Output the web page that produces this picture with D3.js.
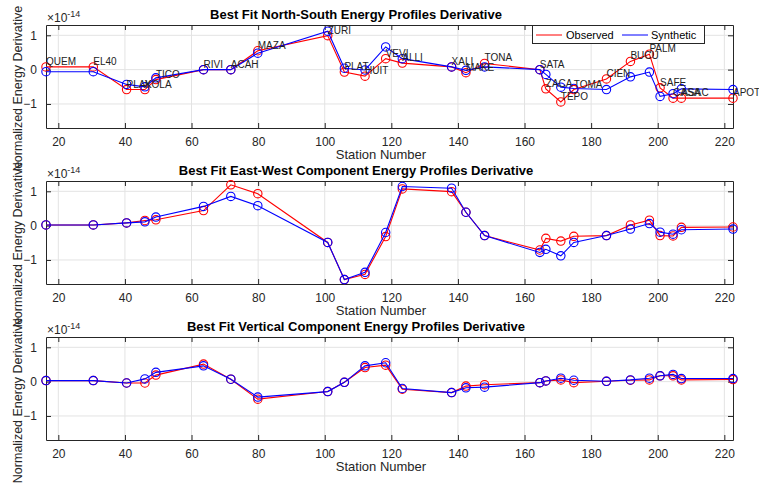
<!DOCTYPE html>
<html>
<head>
<meta charset="utf-8">
<script src="https://cdn.jsdelivr.net/npm/d3@7"></script>
<style>
  html, body { margin: 0; padding: 0; background: #fff; }
  svg { display: block; font-family: "Liberation Sans", Arial, Helvetica, sans-serif; }
</style>
</head>
<body>
<svg id="chart" width="759" height="483"></svg>
<script>
// Station names and distances along the profile
const stations = ["QUEM","EL40","PLAY","KOLA","TICO","RIVI","ACAH","MAZA","ZURI","PLAT","HUIT","VEVI","ALLI",
  "XALI","MAKE","TONA","SATA","ZACA","TEPO","TOMA","CIEN","BUCU","PALM","SAFE","CASA","ASAC","APOT"];
const stationNumber = [16.3,30.5,40.5,46.0,49.3,63.6,71.8,79.9,100.9,105.9,112.1,118.3,123.3,
  138.1,142.4,148.0,164.6,166.4,170.9,174.8,184.6,191.8,197.5,200.7,204.6,207.1,222.6];

// Energy derivative values, in units of 1e-14
const nsObserved  = [0.08,0.08,-0.58,-0.58,-0.29,0.00,0.00,0.55,0.99,-0.07,-0.19,0.32,0.19,
  0.08,-0.09,0.18,0.00,-0.56,-0.94,-0.58,-0.27,0.24,0.45,-0.53,-0.83,-0.83,-0.83];
const nsSynthetic = [-0.06,-0.06,-0.43,-0.50,-0.24,0.00,0.00,0.48,1.12,0.04,-0.01,0.66,0.32,
  0.08,-0.02,0.08,0.00,-0.14,-0.51,-0.55,-0.58,-0.21,-0.07,-0.78,-0.70,-0.56,-0.58];
const ewObserved  = [0.02,0.02,0.08,0.15,0.17,0.44,1.19,0.93,-0.49,-1.57,-1.42,-0.32,1.07,
  0.99,0.39,-0.29,-0.71,-0.37,-0.45,-0.31,-0.29,0.02,0.16,-0.29,-0.30,-0.05,-0.04];
const ewSynthetic = [0.02,0.02,0.08,0.11,0.25,0.56,0.85,0.58,-0.49,-1.57,-1.36,-0.20,1.14,
  1.09,0.39,-0.29,-0.78,-0.69,-0.88,-0.49,-0.29,-0.10,0.06,-0.19,-0.25,-0.12,-0.10];
const vObserved   = [0.03,0.03,-0.04,-0.04,0.19,0.51,0.07,-0.51,-0.29,-0.02,0.41,0.48,-0.22,
  -0.32,-0.13,-0.09,-0.03,0.02,0.05,-0.03,0.01,0.04,0.05,0.17,0.17,0.05,0.06];
const vSynthetic  = [0.03,0.03,-0.04,0.08,0.27,0.46,0.07,-0.45,-0.29,-0.02,0.46,0.55,-0.20,
  -0.32,-0.18,-0.16,-0.03,0.02,0.10,0.04,0.01,0.05,0.10,0.17,0.21,0.09,0.09];

const xTicks = [20,40,60,80,100,120,140,160,180,200,220];
const yTicks = [-1,0,1];
const yLimits = [-1.7, 1.3];
const exponent = "-14";
const seriesNames = ["Observed","Synthetic"];
const seriesColors = ["#ff0000","#0000ff"];

const panels = [
  { title: "Best Fit North-South Energy Profiles Derivative", obs: nsObserved, syn: nsSynthetic, top: 25, labels: true, legend: true },
  { title: "Best Fit East-West Component Energy Profiles Derivative", obs: ewObserved, syn: ewSynthetic, top: 181, labels: false, legend: false },
  { title: "Best Fit Vertical Component Energy Profiles Derivative", obs: vObserved, syn: vSynthetic, top: 337, labels: false, legend: false }
];

const svg = d3.select("#chart");
const left = 46, right = 733, panelH = 103;
const axisColor = "#262626";

const x = d3.scaleLinear().domain([stationNumber[0], stationNumber[stationNumber.length - 1]]).range([left, right]);

panels.forEach(p => {
  const y = d3.scaleLinear().domain(yLimits).range([p.top + panelH, p.top]);
  const g = svg.append("g");

  // grid
  g.selectAll(".gx").data(xTicks).join("line")
    .attr("x1", d => x(d)).attr("x2", d => x(d))
    .attr("y1", p.top).attr("y2", p.top + panelH)
    .attr("stroke", "#e3e3e3").attr("stroke-width", 1);
  g.selectAll(".gy").data(yTicks).join("line")
    .attr("x1", left).attr("x2", right)
    .attr("y1", d => y(d)).attr("y2", d => y(d))
    .attr("stroke", "#e3e3e3").attr("stroke-width", 1);

  // axes
  const xb = g.append("g").attr("transform", `translate(0,${p.top + panelH})`)
    .call(d3.axisBottom(x).tickValues(xTicks).tickSizeInner(-5).tickSizeOuter(0).tickPadding(9));
  const xt = g.append("g").attr("transform", `translate(0,${p.top})`)
    .call(d3.axisTop(x).tickValues(xTicks).tickSizeInner(-5).tickSizeOuter(0).tickFormat(""));
  const yl = g.append("g").attr("transform", `translate(${left},0)`)
    .call(d3.axisLeft(y).tickValues(yTicks).tickSizeInner(-5).tickSizeOuter(0).tickPadding(9).tickFormat(d3.format("d")));
  const yr = g.append("g").attr("transform", `translate(${right},0)`)
    .call(d3.axisRight(y).tickValues(yTicks).tickSizeInner(-5).tickSizeOuter(0).tickFormat(""));
  [xb, xt, yl, yr].forEach(a => {
    a.select(".domain").attr("stroke", axisColor);
    a.selectAll(".tick line").attr("stroke", axisColor);
    a.selectAll("text").attr("fill", axisColor).attr("font-size", 12)
      .attr("font-family", "'Liberation Sans', Arial, sans-serif");
  });

  // exponent label
  const ex = g.append("text").attr("x", left + 1).attr("y", p.top - 3)
    .attr("fill", axisColor).attr("font-size", 12);
  ex.append("tspan").text("\u00d710");
  ex.append("tspan").attr("font-size", 9).attr("dy", -5).text(exponent);

  // title and axis labels
  g.append("text").attr("x", 356).attr("y", p.top - 6).attr("text-anchor", "middle")
    .attr("font-weight", "bold").attr("font-size", 13).attr("fill", "#000").text(p.title);
  g.append("text").attr("x", 381).attr("y", p.top + panelH + 31).attr("text-anchor", "middle")
    .attr("font-size", 13).attr("fill", axisColor).text("Station Number");
  g.append("text").attr("transform", `translate(22,${p.top + panelH / 2 + 12}) rotate(-90)`)
    .attr("text-anchor", "middle").attr("font-size", 12.5).attr("fill", axisColor)
    .text("Normalized Energy Derivative");

  // series: observed first, synthetic on top
  [p.obs, p.syn].forEach((vals, i) => {
    const pts = vals.map((v, k) => [stationNumber[k], v]);
    g.append("path").datum(pts)
      .attr("d", d3.line().x(d => x(d[0])).y(d => y(d[1])))
      .attr("fill", "none").attr("stroke", seriesColors[i]).attr("stroke-width", 1.1);
    g.selectAll(null).data(pts).join("circle")
      .attr("cx", d => x(d[0])).attr("cy", d => y(d[1])).attr("r", 4.2)
      .attr("fill", "none").attr("stroke", seriesColors[i]).attr("stroke-width", 1.1);
  });

  // station names next to the observed points
  if (p.labels) {
    g.selectAll(null).data(stations).join("text")
      .attr("x", (d, k) => x(stationNumber[k]))
      .attr("y", (d, k) => y(p.obs[k]) - 2)
      .attr("font-size", 10).attr("fill", "#222").text(d => d);
  }

  // legend
  if (p.legend) {
    const lg = g.append("g");
    lg.append("rect").attr("x", 532.5).attr("y", 25.5).attr("width", 172).attr("height", 18)
      .attr("fill", "#fff").attr("stroke", axisColor).attr("stroke-width", 1);
    const items = [{ x1: 536, tx: 566 }, { x1: 622, tx: 651 }];
    items.forEach((it, i) => {
      lg.append("line").attr("x1", it.x1).attr("x2", it.x1 + 26).attr("y1", 35).attr("y2", 35)
        .attr("stroke", seriesColors[i]).attr("stroke-width", 1);
      lg.append("text").attr("x", it.tx).attr("y", 39).attr("font-size", 11).attr("fill", "#000")
        .text(seriesNames[i]);
    });
  }
});
</script>
</body>
</html>
